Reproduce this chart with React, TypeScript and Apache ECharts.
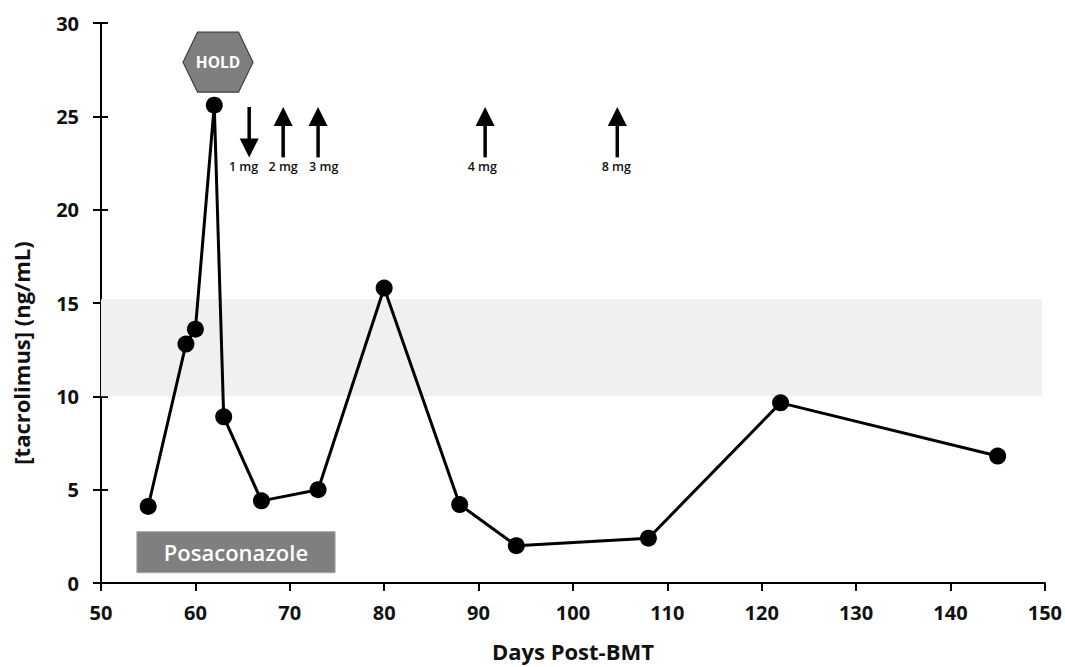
import React, { useEffect, useRef } from "react";
import * as echarts from "echarts";

// ---- Data ----
const days = [55, 59, 60, 62, 63, 67, 73, 80, 88, 94, 108, 122, 145];
const tacrolimus = [4.1, 12.8, 13.6, 25.6, 8.9, 4.4, 5.0, 15.8, 4.2, 2.0, 2.4, 9.65, 6.8];

const xTicks = [50, 60, 70, 80, 90, 100, 110, 120, 130, 140, 150];
const yTicks = [0, 5, 10, 15, 20, 25, 30];

// therapeutic range band
const bandRange = { x0: 50, x1: 149.7, y0: 10, y1: 15.2 };
// posaconazole period box
const posaLabel = "Posaconazole";
const posaRange = { x0: 53.8, x1: 74.8, y0: 0.55, y1: 2.75 };

// dose changes
const doseDays = [65.7, 69.3, 73.0, 90.7, 104.7];
const doseDirs = ["down", "up", "up", "up", "up"];
const doseLabels = ["1 mg", "2 mg", "3 mg", "4 mg", "8 mg"];
const doseLabelDays = [65.1, 69.3, 73.6, 90.4, 104.6];
const arrowTop = 25.5;
const arrowBottom = 22.8;
const doseLabelY = 22.3;

// hold marker
const holdLabel = "HOLD";
const holdPos = [62.4, 27.9];

const FONT = "'Open Sans', Lato, sans-serif";

export default function App() {
  const ref = useRef<HTMLDivElement>(null);
  useEffect(() => {
    if (!ref.current) return;
    const chart = echarts.init(ref.current, null, { renderer: "svg" });
    const axisLabelStyle = {
      color: "#111",
      fontSize: 20,
      fontWeight: "bold" as const,
      fontFamily: FONT,
    };
    chart.setOption({
      animation: false,
      backgroundColor: "#fff",
      grid: { left: 101, right: 20, top: 23, bottom: 80 },
      xAxis: {
        type: "value",
        min: 50,
        max: 150,
        interval: 10,
        name: "Days Post-BMT",
        nameLocation: "middle",
        nameGap: 57,
        nameTextStyle: { ...axisLabelStyle, fontSize: 22 },
        axisLine: { lineStyle: { color: "#000", width: 2 } },
        axisTick: { show: true, length: 8, lineStyle: { color: "#000", width: 2 } },
        axisLabel: { ...axisLabelStyle, margin: 19, formatter: (v: number) => (xTicks.includes(v) ? String(v) : "") },
        splitLine: { show: false },
      },
      yAxis: [
        {
          type: "value",
          min: 0,
          max: 30,
          interval: 5,
          name: "[tacrolimus] (ng/mL)",
          nameLocation: "middle",
          nameGap: 69,
          nameRotate: 90,
          nameTextStyle: { ...axisLabelStyle, fontSize: 22, padding: [0, 100, 0, 0] },
          axisLine: { show: true, lineStyle: { color: "#000", width: 2 } },
          axisTick: { show: true, length: 8, lineStyle: { color: "#000", width: 2 } },
          axisLabel: { ...axisLabelStyle, margin: 22, formatter: (v: number) => (yTicks.includes(v) ? String(v) : "") },
          splitLine: { show: false },
        },
        {
          type: "value",
          position: "left",
          min: 0,
          max: 30,
          interval: 5,
          axisLine: { show: true, lineStyle: { color: "#000", width: 2 } },
          axisTick: { show: true, inside: true, length: 7, lineStyle: { color: "#000", width: 2 } },
          axisLabel: { show: false },
          splitLine: { show: false },
        },
      ],
      series: [
        {
          type: "line",
          data: [],
          z: 1,
          silent: true,
          markArea: {
            silent: true,
            itemStyle: { color: "#f0f0f0" },
            data: [[{ coord: [bandRange.x0, bandRange.y0] }, { coord: [bandRange.x1, bandRange.y1] }]],
          },
        },
        {
          type: "line",
          data: [],
          z: 2,
          silent: true,
          markArea: {
            silent: true,
            itemStyle: { color: "#7f7f7f", borderColor: "#a6a6a6", borderWidth: 1 },
            label: {
              show: true,
              position: "inside",
              color: "#fff",
              fontSize: 22,
              fontWeight: 600,
              fontFamily: FONT,
            },
            data: [[{ name: posaLabel, coord: [posaRange.x0, posaRange.y0] }, { coord: [posaRange.x1, posaRange.y1] }]],
          },
        },
        {
          type: "line",
          z: 5,
          data: days.map((d, i) => [d, tacrolimus[i]]),
          symbol: "circle",
          symbolSize: 17,
          itemStyle: { color: "#000" },
          lineStyle: { color: "#000", width: 3 },
        },
      ],
    });

    // annotations positioned through the chart's own scales
    const px = (x: number, y: number) => chart.convertToPixel({ gridIndex: 0 }, [x, y]) as number[];
    const graphics: any[] = [];
    doseDays.forEach((d, i) => {
      const top = px(d, arrowTop);
      const bot = px(d, arrowBottom);
      const x = top[0];
      const headH = 19;
      const headW = 19;
      if (doseDirs[i] === "up") {
        graphics.push({
          type: "line",
          shape: { x1: x, y1: top[1] + headH - 2, x2: x, y2: bot[1] },
          style: { stroke: "#000", lineWidth: 3.5 },
        });
        graphics.push({
          type: "polygon",
          shape: { points: [[x, top[1]], [x - headW / 2, top[1] + headH], [x + headW / 2, top[1] + headH]] },
          style: { fill: "#000" },
        });
      } else {
        graphics.push({
          type: "line",
          shape: { x1: x, y1: top[1], x2: x, y2: bot[1] - headH + 2 },
          style: { stroke: "#000", lineWidth: 3.5 },
        });
        graphics.push({
          type: "polygon",
          shape: { points: [[x, bot[1]], [x - headW / 2, bot[1] - headH], [x + headW / 2, bot[1] - headH]] },
          style: { fill: "#000" },
        });
      }
      const lp = px(doseLabelDays[i], doseLabelY);
      graphics.push({
        type: "text",
        x: lp[0],
        y: lp[1],
        style: {
          text: doseLabels[i],
          fill: "#111",
          font: `600 12.5px ${FONT}`,
          align: "center",
          verticalAlign: "middle",
        },
      });
    });
    const hc = px(holdPos[0], holdPos[1]);
    const [cx, cy] = hc;
    graphics.push({
      type: "polygon",
      shape: {
        points: [
          [cx - 35, cy],
          [cx - 20.5, cy - 30],
          [cx + 20.5, cy - 30],
          [cx + 35, cy],
          [cx + 20.5, cy + 30],
          [cx - 20.5, cy + 30],
        ],
      },
      style: { fill: "#7f7f7f", stroke: "#404040", lineWidth: 1.2 },
    });
    graphics.push({
      type: "text",
      x: cx,
      y: cy,
      style: {
        text: holdLabel,
        fill: "#fff",
        font: `bold 15.5px ${FONT}`,
        align: "center",
        verticalAlign: "middle",
      },
    });
    chart.setOption({ graphic: graphics });

    return () => chart.dispose();
  }, []);

  return (
    <div
      ref={ref}
      style={{ position: "fixed", left: 0, top: 0, width: 1065, height: 667, background: "#fff" }}
    />
  );
}
